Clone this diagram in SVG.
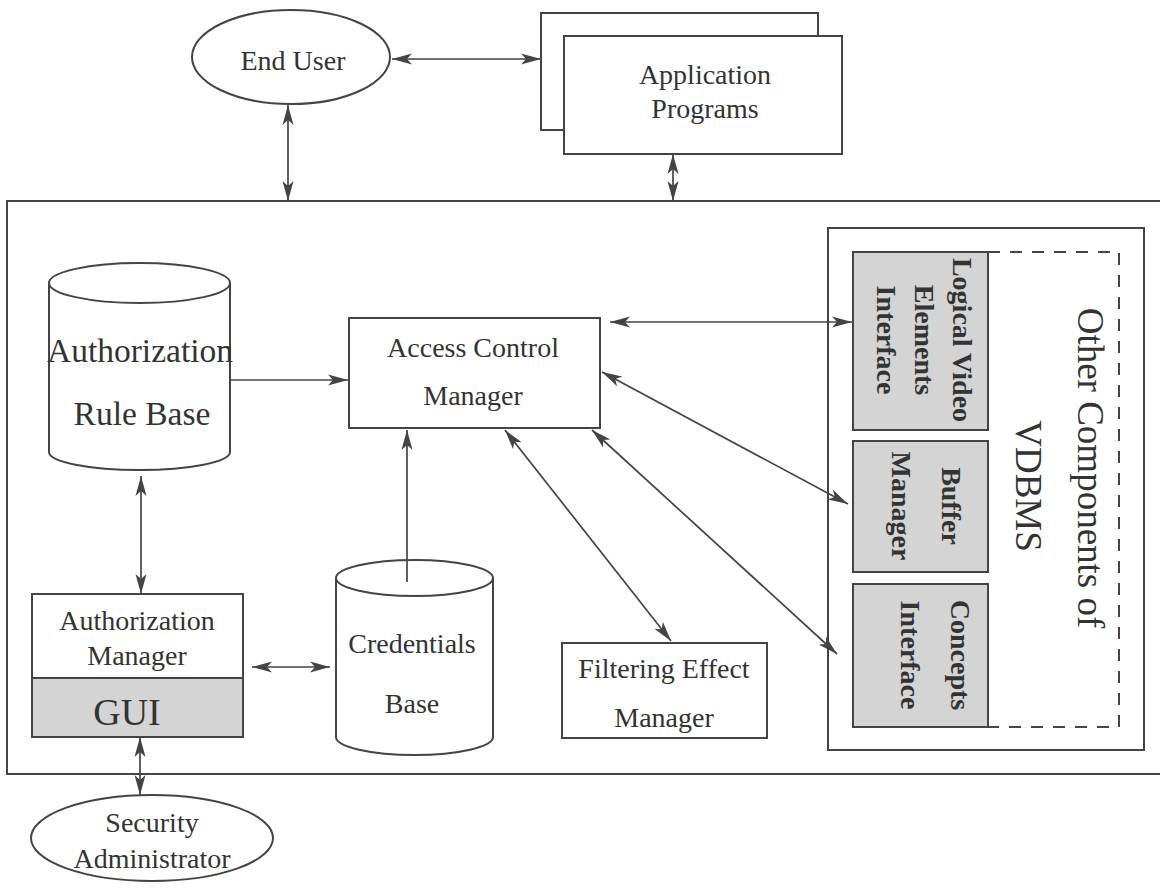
<svg xmlns="http://www.w3.org/2000/svg" width="1160" height="888" viewBox="0 0 1160 888">
<style>
.ln{fill:none;stroke:#444;stroke-width:2}
.bx{fill:#fff;stroke:#444;stroke-width:2}
.sh{fill:#d4d4d4;stroke:#444;stroke-width:2}
.cn{fill:none;stroke:#444;stroke-width:1.7}
.t{font-family:"Liberation Serif","Times New Roman",serif;font-size:28px;fill:#333;text-anchor:middle}
.tb{font-family:"Liberation Serif","Times New Roman",serif;font-size:28px;font-weight:bold;fill:#333;text-anchor:middle}
.tl{font-family:"Liberation Serif","Times New Roman",serif;font-size:37px;fill:#333;text-anchor:middle}
</style>
<defs>
<marker id="ah" markerUnits="userSpaceOnUse" markerWidth="21" markerHeight="12" refX="20" refY="6" orient="auto-start-reverse">
<path d="M0,0.5 L20,6 L0,11.5 L5,6 z" fill="#444"/>
</marker>
</defs>
<rect width="1160" height="888" fill="#fff"/>

<g id="system-boundary">
<path class="ln" d="M1162,201 H7 V774 H1162"/>
</g>

<g id="end-user">
<ellipse class="bx" cx="291" cy="57" rx="99" ry="47"/>
<text class="t" x="293" y="70">End User</text>
</g>

<g id="application-programs">
<rect class="bx" x="541" y="13" width="277" height="117"/>
<rect class="bx" x="564" y="36" width="278" height="118"/>
<text class="t" x="705" y="84">Application</text>
<text class="t" x="705" y="118">Programs</text>
</g>

<g id="authorization-rule-base">
<path class="bx" d="M49,283 V452 A90.5,18 0 0 0 230,452 V283"/>
<ellipse class="bx" cx="139.5" cy="283" rx="90.5" ry="20"/>
<text class="t" style="font-size:33.5px" x="140" y="362">Authorization</text>
<text class="t" style="font-size:33.5px" x="142" y="425">Rule Base</text>
</g>

<g id="access-control-manager">
<rect class="bx" x="349" y="318" width="251" height="110"/>
<text class="t" x="473" y="357">Access Control</text>
<text class="t" x="473" y="405">Manager</text>
</g>

<g id="authorization-manager">
<rect class="bx" x="32" y="594" width="211" height="84"/>
<rect class="sh" x="32" y="678" width="211" height="59"/>
<text class="t" x="137" y="630">Authorization</text>
<text class="t" x="137" y="665">Manager</text>
<text class="t" style="font-size:38px" x="127" y="725">GUI</text>
</g>

<g id="credentials-base">
<path class="bx" d="M336,578 V737 A78.5,18 0 0 0 493,737 V578"/>
<ellipse class="bx" cx="414.5" cy="578" rx="78.5" ry="18"/>
<text class="t" x="412" y="653">Credentials</text>
<text class="t" x="412" y="713">Base</text>
</g>

<g id="filtering-effect-manager">
<rect class="bx" x="562" y="643" width="205" height="95"/>
<text class="t" x="664" y="678">Filtering Effect</text>
<text class="t" x="664" y="727">Manager</text>
</g>

<g id="security-administrator">
<ellipse class="bx" cx="152" cy="838" rx="121" ry="43"/>
<text class="t" x="152" y="832">Security</text>
<text class="t" x="152" y="868">Administrator</text>
</g>

<g id="other-vdbms-components">
<rect class="bx" x="828" y="228" width="316" height="522"/>
<path class="ln" d="M988,252 H1119 V727 H988" stroke-dasharray="12 10"/>
<text class="tl" transform="translate(1078,468) rotate(90)">Other Components of</text>
<text class="tl" transform="translate(1016,486) rotate(90)">VDBMS</text>
</g>

<g id="logical-video-elements-interface">
<rect class="sh" x="853" y="252" width="135" height="178"/>
<text class="tb" transform="translate(953,340) rotate(90)">Logical Video</text>
<text class="tb" transform="translate(915,340) rotate(90)">Elements</text>
<text class="tb" transform="translate(877,340) rotate(90)">Interface</text>
</g>

<g id="buffer-manager">
<rect class="sh" x="853" y="441" width="135" height="131"/>
<text class="tb" transform="translate(942,506) rotate(90)">Buffer</text>
<text class="tb" transform="translate(892,506) rotate(90)">Manager</text>
</g>

<g id="concepts-interface">
<rect class="sh" x="853" y="584" width="135" height="143"/>
<text class="tb" transform="translate(951,655) rotate(90)">Concepts</text>
<text class="tb" transform="translate(901,655) rotate(90)">Interface</text>
</g>

<g id="connectors">
<line class="cn" x1="392" y1="59" x2="541" y2="59" marker-start="url(#ah)" marker-end="url(#ah)"/>
<line class="cn" x1="288" y1="105" x2="288" y2="201" marker-start="url(#ah)" marker-end="url(#ah)"/>
<line class="cn" x1="673" y1="154" x2="673" y2="201" marker-start="url(#ah)" marker-end="url(#ah)"/>
<line class="cn" x1="229" y1="380" x2="348" y2="380" marker-end="url(#ah)"/>
<line class="cn" x1="141" y1="476" x2="141" y2="594" marker-start="url(#ah)" marker-end="url(#ah)"/>
<line class="cn" x1="140" y1="737" x2="140" y2="795" marker-start="url(#ah)" marker-end="url(#ah)"/>
<line class="cn" x1="252" y1="667" x2="330" y2="667" marker-start="url(#ah)" marker-end="url(#ah)"/>
<line class="cn" x1="407" y1="582" x2="407" y2="430" marker-end="url(#ah)"/>
<line class="cn" x1="505" y1="430" x2="671" y2="641" marker-start="url(#ah)" marker-end="url(#ah)"/>
<line class="cn" x1="592" y1="430" x2="837" y2="654" marker-start="url(#ah)" marker-end="url(#ah)"/>
<line class="cn" x1="602" y1="372" x2="848" y2="504" marker-start="url(#ah)" marker-end="url(#ah)"/>
<line class="cn" x1="610" y1="322" x2="852" y2="322" marker-start="url(#ah)" marker-end="url(#ah)"/>
</g>
</svg>
